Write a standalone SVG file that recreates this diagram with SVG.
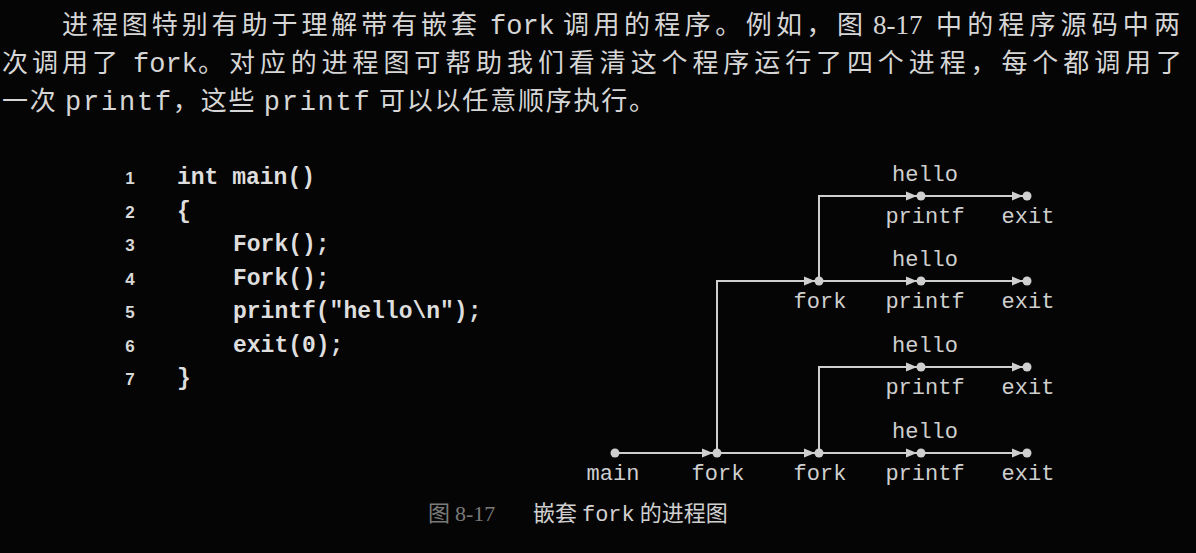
<svg xmlns="http://www.w3.org/2000/svg" xmlns:xlink="http://www.w3.org/1999/xlink" width="1196" height="553" viewBox="0 0 1196 553">
<style>
.bg{fill:#050505}
.para{font-family:"Noto Sans CJK SC","Noto Sans",sans-serif;font-size:26px;fill:#d6d6d6}
.mono{font-family:"Liberation Mono",monospace}
.pm{font-size:27px}
.num{font-family:"Liberation Serif",serif}
.code{font-family:"Liberation Mono",monospace;font-size:23px;font-weight:bold;fill:#dedede}
.ln{font-family:"Liberation Sans",sans-serif;font-size:17px;font-weight:bold;fill:#d8d8d8;text-anchor:middle}
.lbl{font-family:"Liberation Mono",monospace;font-size:22px;fill:#cfcfcf;text-anchor:middle}
.edge{fill:none;stroke:#cfcfcf;stroke-width:2}
.dot{fill:#cfcfcf}
.cap{font-family:"Noto Sans CJK SC",sans-serif;font-size:22px;fill:#d0d0d0}
.capdim{fill:#7a7a7a}
</style>
<defs>
<path id="arr" d="M-15,-4.5 L-4,0 L-15,4.5 Z" fill="#cfcfcf"/>
</defs>
<rect class="bg" width="1196" height="553"/>

<g id="paragraph">
<text class="para" x="62" y="34" textLength="415" lengthAdjust="spacing">进程图特别有助于理解带有嵌套</text>
<text class="para mono pm" x="490" y="34">fork</text>
<text class="para" x="563" y="34" textLength="300" lengthAdjust="spacing">调用的程序。例如，图</text>
<text class="para num pm" x="873" y="34">8-17</text>
<text class="para" x="936" y="34" textLength="244" lengthAdjust="spacing">中的程序源码中两</text>
<text class="para" x="2" y="72" textLength="116" lengthAdjust="spacing">次调用了</text>
<text class="para mono pm" x="133" y="72">fork</text>
<text class="para" x="198" y="72" textLength="984" lengthAdjust="spacing">。对应的进程图可帮助我们看清这个程序运行了四个进程，每个都调用了</text>
<text class="para" x="2" y="110" textLength="653" lengthAdjust="spacing">一次 <tspan class="mono pm">printf</tspan>，这些 <tspan class="mono pm">printf</tspan> 可以以任意顺序执行。</text>
</g>

<g id="code">
<text class="ln" x="130" y="184">1</text>
<text class="ln" x="130" y="218">2</text>
<text class="ln" x="130" y="251">3</text>
<text class="ln" x="130" y="285">4</text>
<text class="ln" x="130" y="318">5</text>
<text class="ln" x="130" y="352">6</text>
<text class="ln" x="130" y="385">7</text>
<text class="code" x="177" y="184">int main()</text>
<text class="code" x="177" y="218">{</text>
<text class="code" x="233" y="251">Fork();</text>
<text class="code" x="233" y="285">Fork();</text>
<text class="code" x="233" y="318">printf("hello\n");</text>
<text class="code" x="233" y="352">exit(0);</text>
<text class="code" x="177" y="385">}</text>
</g>

<g id="connectors">
<path class="edge" d="M615,453 H1027"/>
<path class="edge" d="M717,453 V281 H1027"/>
<path class="edge" d="M819,281 V196 H1027"/>
<path class="edge" d="M819,453 V367 H1027"/>
<use xlink:href="#arr" x="717" y="453"/>
<use xlink:href="#arr" x="819" y="453"/>
<use xlink:href="#arr" x="921" y="453"/>
<use xlink:href="#arr" x="1027" y="453"/>
<use xlink:href="#arr" x="819" y="281"/>
<use xlink:href="#arr" x="921" y="281"/>
<use xlink:href="#arr" x="1027" y="281"/>
<use xlink:href="#arr" x="921" y="196"/>
<use xlink:href="#arr" x="1027" y="196"/>
<use xlink:href="#arr" x="921" y="367"/>
<use xlink:href="#arr" x="1027" y="367"/>
</g>

<g id="node-main"><circle class="dot" cx="615" cy="453" r="4.5"/><text class="lbl" x="613" y="480">main</text></g>
<g id="node-fork1"><circle class="dot" cx="717" cy="453" r="4.5"/><text class="lbl" x="718" y="480">fork</text></g>
<g id="node-fork2"><circle class="dot" cx="819" cy="453" r="4.5"/><text class="lbl" x="820" y="480">fork</text></g>
<g id="node-printf4"><circle class="dot" cx="921" cy="453" r="4.5"/><text class="lbl" x="925" y="438">hello</text><text class="lbl" x="925" y="480">printf</text></g>
<g id="node-exit4"><circle class="dot" cx="1027" cy="453" r="4.5"/><text class="lbl" x="1028" y="480">exit</text></g>

<g id="node-fork3"><circle class="dot" cx="819" cy="281" r="4.5"/><text class="lbl" x="820" y="308">fork</text></g>
<g id="node-printf2"><circle class="dot" cx="921" cy="281" r="4.5"/><text class="lbl" x="925" y="266">hello</text><text class="lbl" x="925" y="308">printf</text></g>
<g id="node-exit2"><circle class="dot" cx="1027" cy="281" r="4.5"/><text class="lbl" x="1028" y="308">exit</text></g>

<g id="node-printf1"><circle class="dot" cx="921" cy="196" r="4.5"/><text class="lbl" x="925" y="181">hello</text><text class="lbl" x="925" y="223">printf</text></g>
<g id="node-exit1"><circle class="dot" cx="1027" cy="196" r="4.5"/><text class="lbl" x="1028" y="223">exit</text></g>

<g id="node-printf3"><circle class="dot" cx="921" cy="367" r="4.5"/><text class="lbl" x="925" y="352">hello</text><text class="lbl" x="925" y="394">printf</text></g>
<g id="node-exit3"><circle class="dot" cx="1027" cy="367" r="4.5"/><text class="lbl" x="1028" y="394">exit</text></g>

<g id="caption">
<text class="cap capdim" x="428" y="521">图 <tspan class="num">8-17</tspan></text>
<text class="cap" x="533" y="521">嵌套 <tspan class="mono">fork</tspan> 的进程图</text>
</g>
</svg>
